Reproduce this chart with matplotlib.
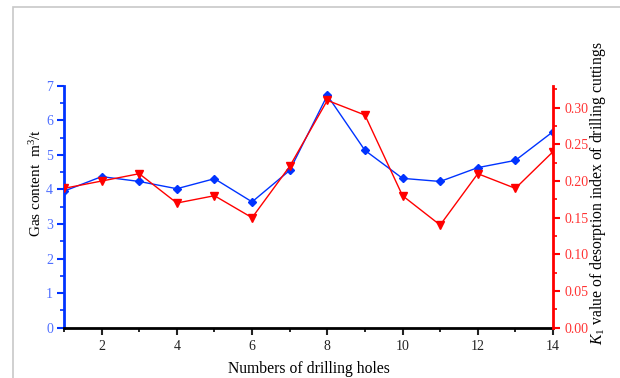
import numpy as np
import matplotlib.pyplot as plt
from matplotlib.patches import Rectangle
from matplotlib.ticker import MultipleLocator

plt.rcParams['font.family'] = ['Liberation Serif', 'DejaVu Serif']
plt.rcParams['mathtext.fontset'] = 'custom'
plt.rcParams['mathtext.rm'] = 'Liberation Serif'
plt.rcParams['mathtext.it'] = 'Liberation Serif:italic'

# 钻孔编号、瓦斯含量、钻屑解吸指标K1
holes = [1, 2, 3, 4, 5, 6, 7, 8, 9, 10, 11, 12, 13, 14]
gas_content = [3.95, 4.37, 4.23, 4.02, 4.31, 3.64, 4.55, 6.72, 5.13, 4.32, 4.23, 4.63, 4.84, 5.67]
k1_value = [0.19, 0.20, 0.21, 0.17, 0.18, 0.15, 0.22, 0.31, 0.29, 0.18, 0.14, 0.21, 0.19, 0.24]

blue = '#0033ff'
red = '#ff0000'

fig = plt.figure(figsize=(6.2, 3.78), dpi=100)
# 外框
fig.patches.append(Rectangle((12.5 / 620, -0.1), 1.2, 1 - 7 / 378 + 0.1,
                             transform=fig.transFigure, fill=False,
                             edgecolor='#c8c8c8', linewidth=1.2))

ax = fig.add_axes([64 / 620, 1 - 327.7 / 378, (553 - 64) / 620, (327.7 - 85.7) / 378])
ax2 = ax.twinx()

ax.plot(holes, gas_content, color=blue, lw=1, marker='D', ms=4.3, zorder=3)
ax2.plot(holes, k1_value, color=red, lw=1, marker='v', ms=5.5, zorder=3)

ax.set_xlim(1, 14)
ax.set_ylim(0, 7)
ax2.set_ylim(0, 0.33)

ax.xaxis.set_major_locator(MultipleLocator(2))
ax.xaxis.set_minor_locator(MultipleLocator(1))
ax.yaxis.set_major_locator(MultipleLocator(1))
ax.yaxis.set_minor_locator(MultipleLocator(0.5))
ax2.yaxis.set_major_locator(MultipleLocator(0.05))
ax2.yaxis.set_minor_locator(MultipleLocator(0.025))

for a in (ax, ax2):
    a.spines['top'].set_visible(False)
ax.spines['right'].set_visible(False)
ax.spines['left'].set_color(blue)
ax.spines['left'].set_linewidth(2)
ax.spines['bottom'].set_linewidth(2)
ax2.spines['left'].set_visible(False)
ax2.spines['bottom'].set_visible(False)
ax2.spines['right'].set_color(red)
ax2.spines['right'].set_linewidth(2)

ax.tick_params(axis='x', which='major', direction='out', length=5, width=1.5, labelsize=10, colors='#222222')
ax.tick_params(axis='x', which='minor', direction='out', length=3, width=1.2)
ax.tick_params(axis='y', which='major', direction='out', length=5, width=1.5, labelsize=10,
               color=blue, labelcolor='#4f6fff', pad=3)
ax.tick_params(axis='y', which='minor', direction='out', length=3, width=1.2, color=blue)
ax2.tick_params(axis='y', which='major', direction='out', length=5, width=1.5, labelsize=10,
                color=red, labelcolor='#ff3333')
ax2.tick_params(axis='y', which='minor', direction='out', length=3, width=1.2, color=red)

ax.yaxis.set_major_formatter(plt.FormatStrFormatter('%d'))
ax2.yaxis.set_major_formatter(plt.FormatStrFormatter('%.2f'))

ax.set_xlabel('Numbers of drilling holes', fontsize=11.3, labelpad=6)
fig.text(36 / 620, 1 - 183 / 378, 'Gas content  m$^3$/t',
         rotation=90, ha='center', va='center', fontsize=11)
fig.text(598 / 620, 1 - 193 / 378, r'$K_{\mathit{1}}$ value of desorption index of drilling cuttings',
         rotation=90, ha='center', va='center', fontsize=11.3)

fig.savefig('out.png', dpi=100)
